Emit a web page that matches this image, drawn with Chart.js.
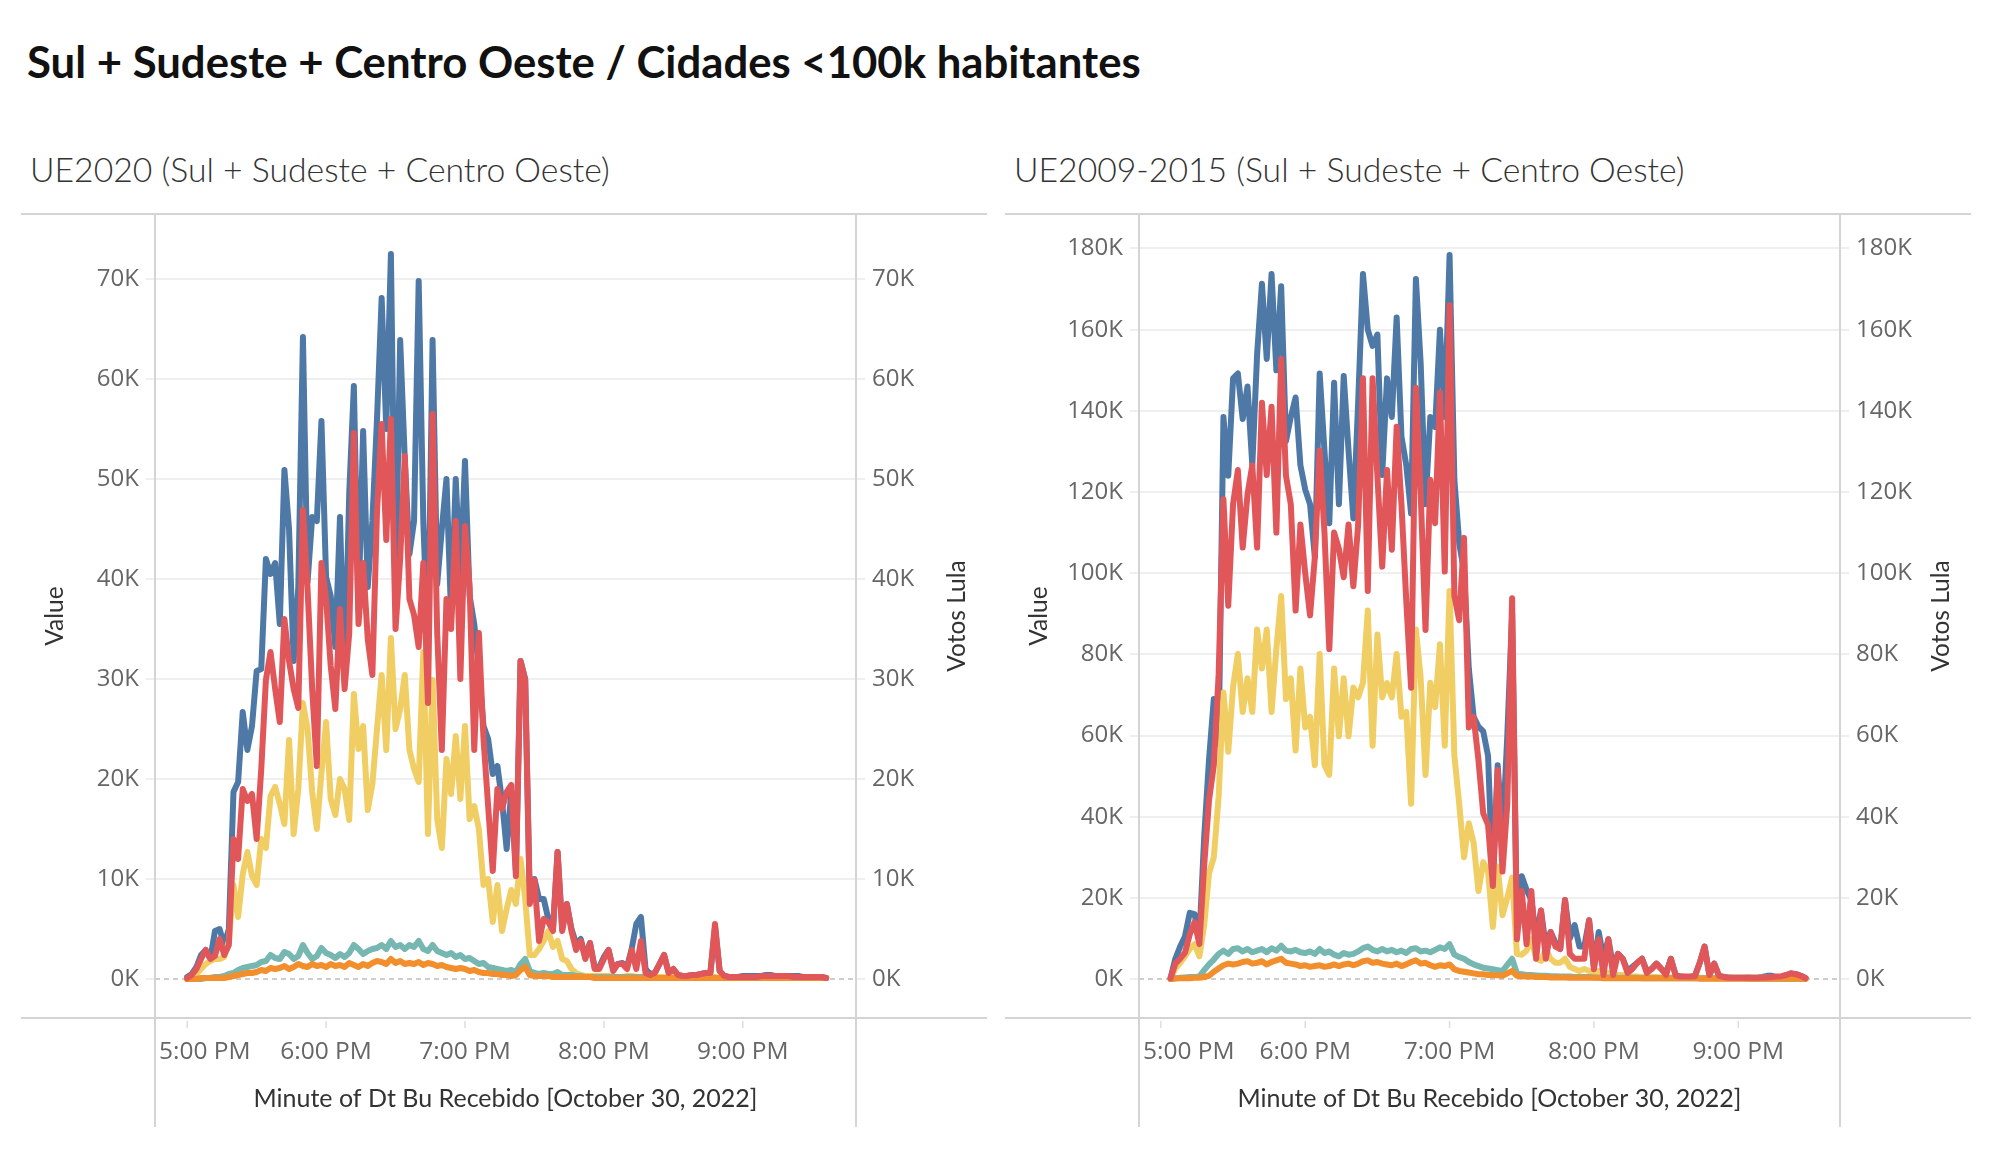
<!DOCTYPE html>
<html>
<head>
<meta charset="utf-8">
<script src="https://cdn.jsdelivr.net/npm/chart.js@4.4.1/dist/chart.umd.min.js"></script>
<style>
html, body { margin:0; padding:0; background:#fff; }
body { width:1996px; height:1162px; position:relative; overflow:hidden; font-family: Lato, "Open Sans", sans-serif; }
.txt { position:absolute; white-space:nowrap; transform:translateY(-50%); line-height:1.2; }
#title { left:27px; top:61px; font-weight:700; color:#111; font-size:40px; }
.sub { top:169px; font-weight:300; color:#333; font-size:30px; }
#subA { left:30px; }
#subB { left:1014px; }
canvas { position:absolute; top:213px; }
#chartA { left:21px; }
#chartB { left:1005px; }
</style>
</head>
<body>
<div class="txt" id="title">Sul + Sudeste + Centro Oeste / Cidades &lt;100k habitantes</div>
<div class="txt sub" id="subA">UE2020 (Sul + Sudeste + Centro Oeste)</div>
<div class="txt sub" id="subB">UE2009-2015 (Sul + Sudeste + Centro Oeste)</div>
<canvas id="chartA" width="966" height="914"></canvas>
<canvas id="chartB" width="966" height="914"></canvas>
<script>
// minutes after 5:00 PM, values in thousands of votes

// UE2020 panel: one reading every 2 minutes from 5:00 PM
const minutesA = [];
for (let t = 0; t <= 276; t += 2) minutesA.push(t);

const blueA = [
 0.2, 0.5, 1.2, 2.4, 2.9, 2.0, 4.8, 5.0, 3.4, 5.0,
 18.7, 19.7, 26.7, 22.9, 25.3, 30.8, 31.0, 42.0, 40.5, 41.6,
 35.5, 50.9, 45.0, 31.8, 39.2, 64.2, 39.7, 46.2, 45.8, 55.8,
 40.2, 38.3, 33.2, 46.2, 29.9, 48.6, 59.3, 36.9, 54.8, 39.2,
 45.8, 56.0, 68.1, 55.0, 72.5, 38.3, 63.9, 52.0, 42.5, 45.8,
 69.8, 45.8, 33.0, 63.9, 39.5, 45.0, 50.0, 36.4, 50.0, 40.0,
 51.8, 38.3, 35.5, 31.0, 25.3, 24.0, 20.5, 21.3, 17.8, 13.0,
 18.7, 10.8, 31.8, 30.0, 8.0, 10.0, 8.0, 8.0, 6.0, 5.0,
 12.7, 5.0, 7.5, 5.0, 3.5, 4.0, 2.2, 3.6, 1.2, 1.2,
 2.2, 2.9, 1.0, 1.5, 1.6, 1.2, 3.0, 5.5, 6.2, 1.0,
 0.5, 0.6, 1.5, 2.4, 0.6, 1.0, 0.4, 0.3, 0.3, 0.4,
 0.4, 0.5, 0.6, 0.6, 5.2, 0.8, 0.3, 0.2, 0.2, 0.2,
 0.3, 0.3, 0.3, 0.3, 0.3, 0.4, 0.4, 0.3, 0.3, 0.3,
 0.3, 0.3, 0.3, 0.2, 0.2, 0.2, 0.2, 0.2, 0.1];

const redA = [
 0.1, 0.4, 1.0, 2.0, 2.9, 2.0, 2.3, 4.0, 2.4, 3.4,
 14.0, 12.0, 19.0, 17.8, 18.5, 14.0, 21.0, 29.9, 32.7, 29.0,
 25.7, 36.0, 31.8, 29.0, 27.1, 46.9, 39.0, 29.0, 21.3, 41.6,
 38.0, 31.3, 27.0, 37.0, 29.0, 34.6, 54.6, 35.5, 41.6, 34.0,
 30.4, 46.7, 55.5, 43.9, 56.0, 35.0, 42.0, 52.3, 38.0, 36.4,
 33.2, 41.6, 27.6, 56.5, 34.6, 22.9, 38.0, 35.0, 45.8, 30.0,
 45.3, 39.2, 22.9, 34.6, 24.0, 17.3, 10.8, 19.0, 17.0, 18.7,
 19.4, 10.3, 31.8, 29.9, 7.5, 9.9, 3.8, 6.0, 5.7, 4.8,
 12.7, 4.8, 7.5, 4.8, 2.9, 3.8, 2.0, 3.6, 1.0, 1.0,
 2.0, 2.9, 0.8, 1.5, 1.5, 1.0, 2.9, 1.0, 3.8, 0.6,
 0.4, 0.6, 1.5, 2.4, 0.6, 1.0, 0.4, 0.3, 0.3, 0.4,
 0.4, 0.5, 0.6, 0.6, 5.5, 0.8, 0.3, 0.2, 0.2, 0.2,
 0.2, 0.2, 0.2, 0.2, 0.3, 0.3, 0.3, 0.3, 0.3, 0.3,
 0.3, 0.2, 0.2, 0.2, 0.2, 0.2, 0.2, 0.2, 0.1];

const yellowA = [
 0, 0.2, 0.5, 1.0, 1.5, 1.8, 2.0, 2.0, 2.2, 3.8,
 9.4, 6.2, 10.5, 12.7, 10.3, 9.4, 14.0, 13.1, 18.3, 19.2,
 17.5, 15.5, 23.9, 14.5, 19.0, 27.6, 25.0, 18.7, 15.0, 20.6,
 25.7, 18.0, 16.4, 20.0, 19.0, 15.9, 28.5, 23.0, 25.3, 16.9,
 19.5, 25.0, 30.4, 22.9, 34.1, 25.0, 27.0, 30.4, 22.9, 21.0,
 19.7, 32.7, 14.5, 29.9, 16.0, 13.1, 22.0, 18.5, 24.3, 18.0,
 25.3, 16.0, 17.3, 15.0, 9.4, 10.0, 5.7, 9.4, 4.8, 7.0,
 8.9, 7.5, 12.0, 8.0, 2.4, 2.4, 3.0, 3.8, 4.8, 3.2,
 3.8, 2.0, 1.8, 1.0, 0.6, 0.4, 0.3, 0.3, 0.3, 0.3,
 0.3, 0.3, 0.2, 0.2, 0.2, 0.3, 0.3, 0.2, 0.2, 0.2,
 0.2, 0.2, 0.2, 0.2, 0.2, 0.2, 0.2, 0.1, 0.1, 0.1,
 0.1, 0.1, 0.1, 0.1, 0.2, 0.1, 0.1, 0.1, 0.1, 0.1,
 0.1, 0.1, 0.1, 0.1, 0.1, 0.1, 0.1, 0.1, 0.1, 0.1,
 0.1, 0.1, 0.1, 0.1, 0.1, 0.1, 0.1, 0.1, 0.1];

const tealA = [
 0, 0, 0, 0, 0.1, 0.1, 0.2, 0.2, 0.3, 0.5,
 0.6, 0.9, 1.1, 1.2, 1.3, 1.4, 1.7, 1.8, 2.4, 2.1,
 2.0, 2.7, 2.5, 2.0, 2.3, 3.4, 2.6, 2.0, 2.3, 3.1,
 2.6, 2.4, 2.1, 2.5, 2.2, 2.6, 3.4, 3.0, 2.5, 2.8,
 3.0, 3.1, 3.4, 3.0, 3.8, 3.2, 3.4, 3.0, 3.4, 3.2,
 3.8, 3.0, 2.8, 3.4, 2.8, 2.6, 2.4, 2.6, 2.2, 2.4,
 2.0, 2.1, 1.8, 1.5, 1.6, 1.2, 1.1, 1.0, 0.9, 0.8,
 0.9, 0.7, 1.5, 2.0, 0.8, 0.6, 0.5, 0.6, 0.5, 0.5,
 0.7, 0.4, 0.4, 0.4, 0.3, 0.3, 0.2, 0.2, 0.2, 0.2,
 0.2, 0.2, 0.2, 0.2, 0.2, 0.2, 0.2, 0.2, 0.2, 0.2,
 0.1, 0.1, 0.1, 0.1, 0.1, 0.1, 0.1, 0.1, 0.1, 0.1,
 0.1, 0.1, 0.1, 0.1, 0.1, 0.1, 0.1, 0.1, 0.1, 0.1,
 0.1, 0.1, 0.1, 0.1, 0.1, 0.1, 0.1, 0.1, 0.1, 0.1,
 0.1, 0.1, 0.1, 0.1, 0.1, 0.1, 0.1, 0.1, 0.1];

const orangeA = [
 0, 0, 0, 0.1, 0.1, 0.1, 0.1, 0.1, 0.1, 0.2,
 0.3, 0.4, 0.5, 0.6, 0.6, 0.7, 0.9, 0.8, 1.1, 1.0,
 1.1, 1.3, 1.0, 1.2, 1.5, 1.3, 1.2, 1.5, 1.3, 1.4,
 1.2, 1.5, 1.3, 1.4, 1.2, 1.6, 1.4, 1.2, 1.5, 1.3,
 1.6, 1.8, 1.7, 1.5, 2.0, 1.6, 1.8, 1.5, 1.6, 1.5,
 1.7, 1.4, 1.6, 1.5, 1.3, 1.4, 1.2, 1.1, 1.0, 1.1,
 1.0, 0.8, 0.9, 0.7, 0.6, 0.6, 0.5, 0.5, 0.4, 0.4,
 0.3, 0.4, 0.9, 1.2, 0.4, 0.3, 0.3, 0.3, 0.3, 0.2,
 0.2, 0.2, 0.2, 0.2, 0.2, 0.2, 0.2, 0.2, 0.1, 0.1,
 0.1, 0.1, 0.1, 0.1, 0.1, 0.1, 0.1, 0.1, 0.1, 0.1,
 0.1, 0.1, 0.1, 0.1, 0.1, 0.1, 0.1, 0.1, 0.1, 0.1,
 0.1, 0.1, 0.1, 0.1, 0.1, 0.1, 0.1, 0.1, 0.1, 0.1,
 0.1, 0.1, 0.1, 0.1, 0.1, 0.1, 0.1, 0.1, 0.1, 0.1,
 0.1, 0.1, 0.1, 0.1, 0.1, 0.1, 0.1, 0.1, 0.1];

// UE2009-2015 panel: one reading every 2 minutes from 5:04 PM
const minutesB = [];
for (let t = 4; t <= 268; t += 2) minutesB.push(t);

const blueB = [
 0.2, 5.0, 8.0, 10.5, 16.3, 16.0, 10.0, 35.0, 54.0, 69.0,
 58.0, 138.5, 124.0, 148.0, 149.2, 138.0, 146.0, 126.6, 154.0, 171.3,
 152.8, 173.7, 150.0, 170.7, 132.5, 138.5, 143.3, 126.6, 120.6, 117.0,
 103.9, 149.2, 130.2, 112.3, 146.9, 117.0, 148.6, 130.2, 113.5, 142.1,
 173.7, 160.0, 156.0, 158.8, 124.2, 148.0, 138.5, 163.0, 133.7, 126.6,
 114.7, 172.5, 151.6, 117.0, 138.5, 136.0, 160.0, 138.5, 178.4, 123.0,
 107.5, 100.4, 76.5, 64.6, 62.2, 61.0, 55.0, 23.5, 52.7, 35.0,
 60.0, 90.0, 12.0, 25.3, 22.0, 19.5, 10.0, 16.9, 8.0, 11.6,
 9.0, 7.4, 19.5, 10.0, 13.3, 8.0, 8.0, 14.5, 3.0, 11.6,
 5.0, 9.8, 3.0, 6.2, 5.0, 2.0, 3.0, 4.0, 5.0, 2.0,
 2.5, 3.8, 2.5, 1.5, 5.0, 1.0, 0.6, 0.5, 0.5, 0.8,
 4.0, 8.0, 1.0, 3.8, 0.8, 0.5, 0.4, 0.3, 0.3, 0.3,
 0.4, 0.3, 0.3, 0.5, 0.8, 0.8, 0.4, 0.5, 1.0, 1.4,
 1.2, 0.8, 0.2];

const redB = [
 0.2, 3.8, 5.0, 6.5, 11.0, 14.0, 8.6, 28.0, 44.0, 52.7,
 75.0, 118.2, 92.0, 117.0, 125.4, 106.3, 119.4, 126.6, 106.3, 142.0,
 124.2, 141.0, 110.0, 152.8, 124.0, 117.0, 90.8, 112.0, 100.0, 89.6,
 104.0, 130.2, 110.0, 81.3, 110.0, 106.0, 99.0, 112.0, 96.8, 112.0,
 148.0, 95.6, 148.0, 124.0, 101.6, 125.4, 105.8, 136.1, 117.0, 93.2,
 71.8, 145.7, 119.4, 86.0, 123.0, 112.3, 144.5, 100.4, 166.0, 94.4,
 88.4, 108.7, 62.0, 64.6, 54.0, 40.8, 38.0, 22.9, 51.5, 26.5,
 43.2, 93.8, 9.8, 21.7, 8.6, 21.7, 5.0, 16.9, 5.0, 11.6,
 8.0, 7.4, 19.5, 6.2, 5.0, 5.0, 5.0, 14.5, 2.4, 9.8,
 1.0, 9.8, 1.0, 6.2, 5.0, 1.5, 2.5, 4.0, 5.0, 1.5,
 2.5, 3.8, 2.5, 1.0, 5.0, 0.8, 0.6, 0.6, 0.6, 0.7,
 4.0, 8.0, 1.0, 3.8, 0.8, 0.5, 0.3, 0.3, 0.3, 0.3,
 0.3, 0.3, 0.3, 0.4, 0.4, 0.5, 0.6, 0.7, 1.0, 1.4,
 1.2, 0.8, 0.2];

const yellowB = [
 0.1, 2.6, 4.0, 5.5, 7.4, 8.6, 5.6, 13.3, 26.0, 30.0,
 45.0, 70.6, 56.0, 72.0, 80.1, 65.8, 74.1, 65.8, 86.1, 76.5,
 86.1, 65.8, 81.3, 94.4, 69.0, 74.1, 56.3, 76.5, 62.0, 64.6,
 52.7, 80.1, 52.7, 50.3, 76.5, 59.8, 74.1, 59.8, 71.8, 69.4,
 73.0, 90.8, 57.5, 84.9, 69.4, 72.9, 69.4, 80.1, 64.6, 65.8,
 43.2, 86.1, 74.1, 50.3, 73.0, 67.0, 82.5, 57.5, 95.6, 55.0,
 43.2, 30.0, 38.4, 33.6, 21.7, 28.8, 26.5, 12.8, 27.7, 15.7,
 20.0, 25.0, 6.2, 6.0, 7.0, 9.8, 5.0, 4.5, 7.4, 5.0,
 4.0, 4.0, 5.0, 3.0, 2.5, 2.0, 2.5, 2.0, 1.5, 2.0,
 1.5, 1.5, 1.0, 1.0, 1.0, 0.8, 0.6, 0.6, 0.5, 0.5,
 0.5, 0.5, 0.4, 0.4, 0.4, 0.4, 0.4, 0.3, 0.3, 0.3,
 0.3, 0.3, 0.3, 0.3, 0.3, 0.3, 0.3, 0.3, 0.3, 0.3,
 0.3, 0.3, 0.3, 0.3, 0.3, 0.3, 0.3, 0.3, 0.3, 0.3,
 0.2, 0.2, 0.1];

const tealB = [
 0, 0.2, 0.3, 0.4, 0.5, 0.5, 0.6, 2.2, 3.6, 4.8,
 6.2, 7.0, 6.2, 7.4, 7.6, 6.8, 7.4, 6.6, 7.0, 7.4,
 6.6, 7.6, 7.0, 8.2, 7.0, 6.8, 7.2, 6.6, 6.4, 6.8,
 6.2, 7.4, 6.4, 6.8, 6.0, 5.6, 6.4, 6.0, 6.2, 6.8,
 7.6, 8.0, 7.2, 6.8, 7.4, 6.8, 7.2, 6.6, 7.0, 6.4,
 7.4, 7.6, 6.8, 7.0, 6.6, 7.2, 7.8, 7.4, 8.6, 6.0,
 5.4, 5.0, 4.2, 3.6, 3.2, 2.8, 2.6, 2.4, 2.2, 2.0,
 3.5, 5.0, 1.4, 1.2, 1.0, 1.0, 0.9, 0.8, 0.8, 0.7,
 0.7, 0.6, 0.6, 0.6, 0.5, 0.5, 0.5, 0.5, 0.4, 0.4,
 0.4, 0.4, 0.3, 0.3, 0.3, 0.3, 0.3, 0.3, 0.2, 0.2,
 0.2, 0.2, 0.2, 0.2, 0.2, 0.2, 0.2, 0.2, 0.2, 0.2,
 0.2, 0.2, 0.2, 0.2, 0.2, 0.2, 0.2, 0.2, 0.2, 0.2,
 0.1, 0.1, 0.1, 0.1, 0.1, 0.1, 0.1, 0.1, 0.1, 0.1,
 0.1, 0.1, 0.1];

const orangeB = [
 0, 0.1, 0.2, 0.2, 0.2, 0.3, 0.3, 0.5, 0.8, 1.8,
 2.6, 3.4, 3.8, 3.6, 3.8, 4.2, 4.4, 3.8, 4.0, 4.4,
 3.6, 4.2, 4.6, 5.0, 4.0, 3.8, 3.6, 3.2, 3.4, 3.0,
 3.2, 3.4, 3.0, 3.2, 3.6, 3.2, 3.6, 3.8, 3.4, 3.8,
 4.4, 4.6, 4.0, 4.2, 3.8, 3.6, 3.4, 3.8, 3.2, 3.6,
 4.2, 4.6, 3.8, 4.0, 3.4, 3.0, 3.4, 3.2, 3.6, 2.4,
 2.0, 1.8, 1.6, 1.4, 1.2, 1.2, 1.0, 1.0, 0.9, 0.8,
 1.4, 2.0, 0.8, 0.7, 0.6, 0.6, 0.5, 0.5, 0.5, 0.4,
 0.4, 0.4, 0.4, 0.3, 0.3, 0.3, 0.3, 0.3, 0.3, 0.3,
 0.2, 0.2, 0.2, 0.2, 0.2, 0.2, 0.2, 0.2, 0.2, 0.2,
 0.2, 0.2, 0.2, 0.2, 0.2, 0.2, 0.2, 0.2, 0.2, 0.2,
 0.1, 0.1, 0.1, 0.1, 0.1, 0.1, 0.1, 0.1, 0.1, 0.1,
 0.1, 0.1, 0.1, 0.1, 0.1, 0.1, 0.1, 0.1, 0.1, 0.1,
 0.1, 0.1, 0.1];

const hourTicks = [0, 60, 120, 180, 240];
const hourLabels = ['5:00 PM', '6:00 PM', '7:00 PM', '8:00 PM', '9:00 PM'];

const BLUE = '#4e79a7', RED = '#e15759', YELLOW = '#f1ce63', TEAL = '#76b7b2', ORANGE = '#f28e2b';

function fitWidth(el, target) {
  const size = parseFloat(getComputedStyle(el).fontSize);
  const w = el.getBoundingClientRect().width;
  el.style.fontSize = (size * target / w) + 'px';
}
fitWidth(document.getElementById('title'), 1114);
fitWidth(document.getElementById('subA'), 580);
document.getElementById('subB').style.fontSize = document.getElementById('subA').style.fontSize;

Chart.defaults.font.family = '"Open Sans", sans-serif';
Chart.defaults.color = '#666';

// tableau-like frame, dashed zero line, hour labels and rotated axis titles
const frame = {
  id: 'frame',
  beforeDatasetsDraw(chart) {
    const {ctx, chartArea: a, scales} = chart;
    const y0 = scales.y.getPixelForValue(0);
    ctx.save();
    ctx.strokeStyle = '#bdbdbd';
    ctx.lineWidth = 1.5;
    ctx.setLineDash([5, 4]);
    ctx.beginPath();
    ctx.moveTo(a.left, y0);
    ctx.lineTo(a.right, y0);
    ctx.stroke();
    ctx.restore();
  },
  afterDraw(chart) {
    const {ctx, chartArea: a, width, height, scales} = chart;
    ctx.save();
    ctx.strokeStyle = '#d4d4d4';
    ctx.lineWidth = 2;
    ctx.beginPath();
    ctx.moveTo(0, a.top); ctx.lineTo(width, a.top);
    ctx.moveTo(0, a.bottom); ctx.lineTo(width, a.bottom);
    ctx.moveTo(a.left, a.top); ctx.lineTo(a.left, height);
    ctx.moveTo(a.right, a.top); ctx.lineTo(a.right, height);
    ctx.stroke();

    ctx.strokeStyle = '#dddddd';
    ctx.lineWidth = 1.5;
    ctx.font = '24.5px "Open Sans", sans-serif';
    ctx.fillStyle = '#666';
    ctx.textAlign = 'left';
    ctx.textBaseline = 'middle';
    hourTicks.forEach((v, i) => {
      const x = scales.x.getPixelForValue(v);
      ctx.beginPath();
      ctx.moveTo(x, a.bottom + 3);
      ctx.lineTo(x, a.bottom + 10);
      ctx.stroke();
      const w = ctx.measureText(hourLabels[i]).width;
      const left = Math.max(x - w / 2, a.left + 4);
      ctx.fillText(hourLabels[i], left, a.bottom + 34);
    });

    ctx.font = '24.5px Lato, sans-serif';
    ctx.fillStyle = '#333';
    ctx.textAlign = 'center';
    const midY = (a.top + a.bottom) / 2;
    [['Value', a.left - 100], ['Votos Lula', a.right + 101]].forEach(([text, x]) => {
      ctx.save();
      ctx.translate(x, midY);
      ctx.rotate(-Math.PI / 2);
      ctx.fillText(text, 0, 0);
      ctx.restore();
    });
    ctx.restore();
  }
};

function points(times, vals) {
  return vals.map((v, i) => ({x: times[i], y: v}));
}

function line(color, times, vals) {
  return {
    data: points(times, vals),
    borderColor: color,
    borderWidth: 6,
    pointRadius: 0,
    tension: 0,
    borderJoinStyle: 'round',
    borderCapStyle: 'round',
    fill: false
  };
}

function makeChart(id, times, s, xMin, xMax, yMin, yMax, yStep) {
  const yTicks = {
    stepSize: yStep, includeBounds: false, padding: 7,
    font: {size: 24}, color: '#666',
    callback: v => v + 'K'
  };
  return new Chart(document.getElementById(id), {
    type: 'line',
    data: {
      // first dataset is drawn on top
      datasets: [
        line(RED, times, s.red),
        line(ORANGE, times, s.orange),
        line(TEAL, times, s.teal),
        line(YELLOW, times, s.yellow),
        line(BLUE, times, s.blue)
      ]
    },
    options: {
      responsive: false,
      animation: false,
      events: [],
      layout: {padding: {top: 1, left: 0, right: 0, bottom: 0}},
      plugins: {legend: {display: false}, tooltip: {enabled: false}},
      scales: {
        x: {
          type: 'linear', min: xMin, max: xMax,
          ticks: {display: false, stepSize: 60},
          grid: {display: false},
          border: {display: false},
          title: {
            display: true, text: 'Minute of Dt Bu Recebido [October 30, 2022]',
            color: '#333', font: {size: 25, family: 'Lato, sans-serif'},
            padding: {top: 0, bottom: 13}
          },
          afterFit: sc => { sc.height = 109; sc.paddingLeft = 0; sc.paddingRight = 0; }
        },
        y: {
          position: 'left', min: yMin, max: yMax,
          ticks: yTicks,
          grid: {
            color: c => (c.tick && c.tick.value === 0) ? 'rgba(0,0,0,0)' : '#efefef',
            lineWidth: 2, tickLength: 9, tickColor: '#efefef'
          },
          border: {display: false},
          afterFit: sc => { sc.width = 134; sc.paddingTop = 0; sc.paddingBottom = 0; }
        },
        y2: {
          position: 'right', min: yMin, max: yMax,
          ticks: yTicks,
          grid: {drawOnChartArea: false, lineWidth: 2, tickLength: 9, tickColor: '#efefef'},
          border: {display: false},
          afterFit: sc => { sc.width = 131; sc.paddingTop = 0; sc.paddingBottom = 0; }
        }
      }
    },
    plugins: [frame]
  });
}

makeChart('chartA', minutesA,
  {blue: blueA, red: redA, yellow: yellowA, teal: tealA, orange: orangeA},
  -13.9, 288.9, -3.9, 76.5, 10);

makeChart('chartB', minutesB,
  {blue: blueB, red: redB, yellow: yellowB, teal: tealB, orange: orangeB},
  -9.1, 282.3, -9.6, 188.5, 20);
</script>
</body>
</html>
